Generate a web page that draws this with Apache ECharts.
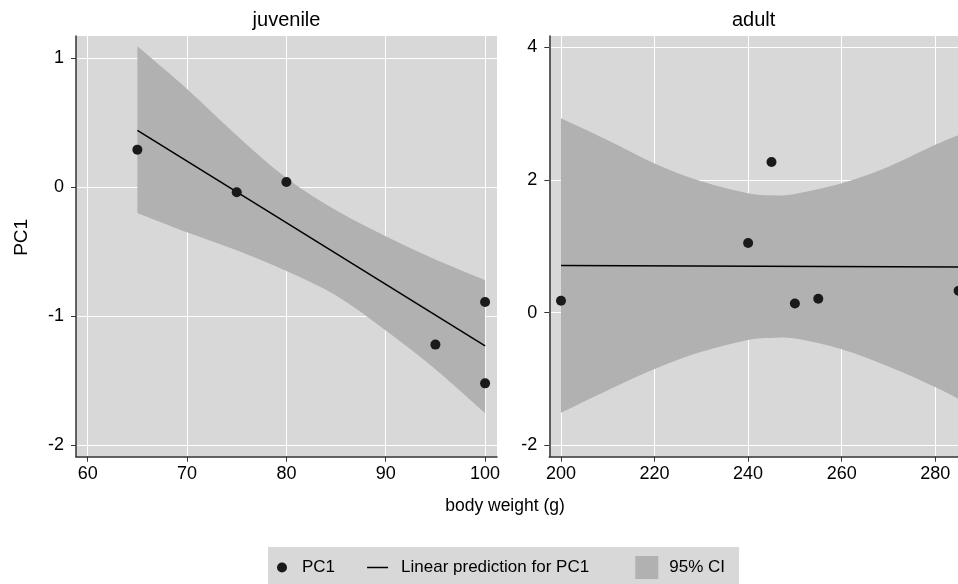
<!DOCTYPE html>
<html>
<head>
<meta charset="utf-8">
<script src="https://cdn.jsdelivr.net/npm/echarts@6/dist/echarts.min.js"></script>
<style>
  html, body { margin: 0; padding: 0; background: #fff; }
  #chart { width: 958px; height: 584px; }
</style>
</head>
<body>
<div id="chart"></div>
<script>
// juvenile panel
const juvWeight = [65, 75, 80, 95, 100, 100];
const juvPC1 = [0.29, -0.04, 0.04, -1.22, -0.89, -1.52];
const juvFitX = [65, 100];
const juvFitY = [0.44, -1.23];
const juvBandX = [65, 70, 75, 80, 85, 90, 95, 100];
const juvBandUpper = [1.09, 0.76, 0.40, 0.07, -0.18, -0.38, -0.56, -0.72];
const juvBandLower = [-0.20, -0.35, -0.49, -0.65, -0.84, -1.11, -1.41, -1.75];
const juvTicksX = [60, 70, 80, 90, 100];
const juvTicksY = [-2, -1, 0, 1];

// adult panel
const adultWeight = [200, 240, 245, 250, 255, 285];
const adultPC1 = [0.18, 1.05, 2.27, 0.14, 0.21, 0.33];
const adultFitX = [200, 285];
const adultFitY = [0.71, 0.69];
const adultBandX = [200, 210, 220, 230, 240, 245, 250, 260, 270, 280, 285];
const adultBandUpper = [2.93, 2.60, 2.25, 1.98, 1.80, 1.77, 1.79, 1.95, 2.20, 2.53, 2.68];
const adultBandLower = [-1.51, -1.17, -0.85, -0.59, -0.41, -0.38, -0.39, -0.55, -0.81, -1.12, -1.30];
const adultTicksX = [200, 220, 240, 260, 280];
const adultTicksY = [-2, 0, 2, 4];

const FONT = 'Liberation Sans, Arial, Helvetica, sans-serif';
const PLOT_BG = '#d8d8d8';
const BAND = '#b1b1b1';
const AXIS = '#333';

const pairs = (xs, ys) => xs.map((x, i) => [x, ys[i]]);

function bottomAxis(grid, min, max, ticks) {
    return {
        type: 'value', gridIndex: grid, position: 'bottom', min: min, max: max,
        axisLine: { show: true, onZero: false, lineStyle: { color: AXIS, width: 1.5 } },
        axisTick: { show: true, length: 5, lineStyle: { color: AXIS }, customValues: ticks },
        axisLabel: { fontSize: 18, color: '#000', fontFamily: FONT, margin: 8, customValues: ticks },
        splitLine: { show: true, lineStyle: { color: '#fff', width: 1 } }
    };
}
function topAxis(grid, min, max, title) {
    return {
        type: 'value', gridIndex: grid, position: 'top', min: min, max: max,
        name: title, nameLocation: 'middle', nameGap: 6,
        nameTextStyle: { fontSize: 20, color: '#000', fontFamily: FONT },
        axisLine: { show: false, onZero: false }, axisTick: { show: false },
        axisLabel: { show: false }, splitLine: { show: false }
    };
}
function leftAxis(grid, min, max, ticks, name) {
    return {
        type: 'value', gridIndex: grid, min: min, max: max,
        name: name, nameLocation: 'middle', nameGap: 45,
        nameTextStyle: { fontSize: 19, color: '#000', fontFamily: FONT, padding: [0, 0, 0, 18] },
        axisLine: { show: true, onZero: false, lineStyle: { color: AXIS, width: 1.5 } },
        axisTick: { show: true, length: 5, lineStyle: { color: AXIS }, customValues: ticks },
        axisLabel: { fontSize: 18, color: '#000', fontFamily: FONT, margin: 12, customValues: ticks },
        splitLine: { show: true, lineStyle: { color: '#fff', width: 1 } }
    };
}

// smooth curve through screen points (Catmull-Rom as cubic beziers)
function curveThrough(pts, start) {
    let d = start ? 'M' + pts[0][0] + ',' + pts[0][1] : 'L' + pts[0][0] + ',' + pts[0][1];
    for (let i = 0; i < pts.length - 1; i++) {
        const p0 = pts[Math.max(i - 1, 0)], p1 = pts[i], p2 = pts[i + 1], p3 = pts[Math.min(i + 2, pts.length - 1)];
        const c1 = [p1[0] + (p2[0] - p0[0]) / 6, p1[1] + (p2[1] - p0[1]) / 6];
        const c2 = [p2[0] - (p3[0] - p1[0]) / 6, p2[1] - (p3[1] - p1[1]) / 6];
        d += 'C' + c1[0] + ',' + c1[1] + ',' + c2[0] + ',' + c2[1] + ',' + p2[0] + ',' + p2[1];
    }
    return d;
}
function bandSeries(axis, xs, lower, upper) {
    return {
        name: '95% CI', type: 'custom', xAxisIndex: axis, yAxisIndex: axis,
        color: BAND, itemStyle: { color: BAND }, silent: true, z: 1,
        encode: { x: 0, y: [1, 2] },
        data: xs.map((x, i) => [x, lower[i], upper[i]]),
        renderItem: function (params, api) {
            if (params.dataIndex !== 0) return null;
            const top = xs.map((x, i) => api.coord([x, upper[i]]));
            const bot = xs.map((x, i) => api.coord([x, lower[i]])).reverse();
            const d = curveThrough(top, true) + curveThrough(bot, false) + 'Z';
            return { type: 'path', shape: { pathData: d }, style: { fill: BAND, stroke: null } };
        }
    };
}
function fitSeries(axis, xs, ys) {
    return {
        name: 'Linear prediction for PC1', type: 'line', xAxisIndex: axis, yAxisIndex: axis,
        symbol: 'none', color: '#000', lineStyle: { color: '#000', width: 1.5 }, z: 3,
        data: pairs(xs, ys)
    };
}
function dotSeries(axis, xs, ys) {
    return {
        name: 'PC1', type: 'scatter', xAxisIndex: axis, yAxisIndex: axis,
        symbolSize: 10, itemStyle: { color: '#1a1a1a', opacity: 1 }, clip: false,
        data: pairs(xs, ys), z: 5
    };
}

const chart = echarts.init(document.getElementById('chart'));
chart.setOption({
    animation: false,
    backgroundColor: '#fff',
    textStyle: { fontFamily: FONT },
    grid: [
        { left: 76, top: 36, width: 421, height: 420.7, show: true, backgroundColor: PLOT_BG, borderWidth: 0 },
        { left: 549.3, top: 36, right: 0, height: 420.7, show: true, backgroundColor: PLOT_BG, borderWidth: 0 }
    ],
    xAxis: [
        bottomAxis(0, 58.82, 101.2, juvTicksX),
        bottomAxis(1, 197.5, 284.87, adultTicksX),
        topAxis(0, 58.82, 101.2, 'juvenile'),
        topAxis(1, 197.5, 284.87, 'adult')
    ],
    yAxis: [
        leftAxis(0, -2.088, 1.17, juvTicksY, 'PC1'),
        leftAxis(1, -2.17, 4.17, adultTicksY, '')
    ],
    legend: {
        left: 268, top: 547, orient: 'horizontal',
        backgroundColor: PLOT_BG, padding: [9, 14, 9, 0],
        itemWidth: 29, itemHeight: 23, itemGap: 32,
        selectedMode: false,
        itemStyle: { borderWidth: 0 },
        textStyle: { fontSize: 17, color: '#000', fontFamily: FONT },
        // the gap after the long label is wider in the original
        formatter: name => name === 'Linear prediction for PC1' ? name + '   ' : name,
        data: [
            { name: 'PC1', icon: 'path://M0,0M29,23M19,11.5A5,5,0,1,1,9,11.5A5,5,0,1,1,19,11.5Z' },
            { name: 'Linear prediction for PC1', icon: 'path://M0,0M29,23M0,10.75H21V12.25H0Z' },
            { name: '95% CI', icon: 'path://M0,0M29,23M0,0H23V23H0Z', itemStyle: { color: BAND } }
        ]
    },
    graphic: [
        {
            type: 'text', x: 505, y: 506,
            style: { text: 'body weight (g)', font: '17.5px ' + FONT, fill: '#000', textAlign: 'center', textVerticalAlign: 'middle' }
        }
    ],
    series: [
        bandSeries(0, juvBandX, juvBandLower, juvBandUpper),
        bandSeries(1, adultBandX, adultBandLower, adultBandUpper),
        fitSeries(0, juvFitX, juvFitY),
        fitSeries(1, adultFitX, adultFitY),
        dotSeries(0, juvWeight, juvPC1),
        dotSeries(1, adultWeight, adultPC1)
    ]
});
</script>
</body>
</html>
